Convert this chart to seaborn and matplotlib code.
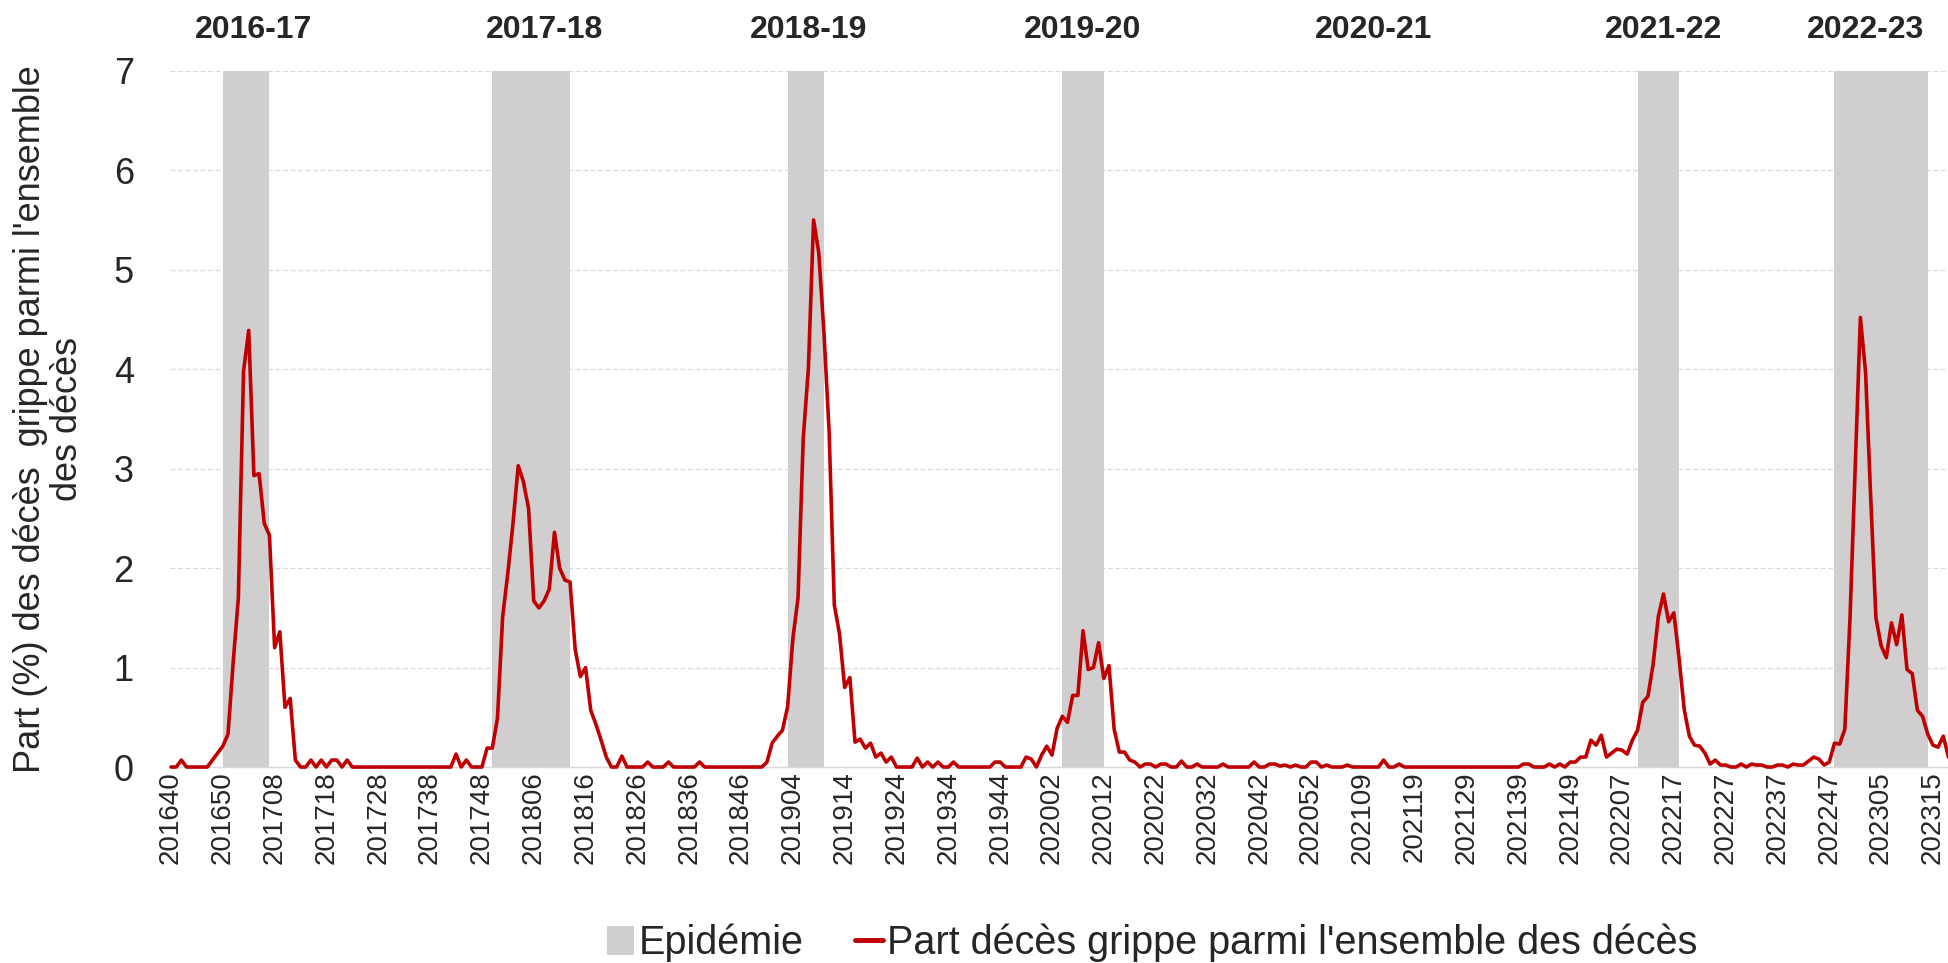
import pandas as pd
import matplotlib
matplotlib.use('Agg')
import matplotlib.pyplot as plt
import matplotlib.transforms as mtransforms
from matplotlib.patches import Patch
from matplotlib.lines import Line2D
import seaborn as sns

# part (%) des deces grippe parmi l'ensemble des deces, par saison (S40 -> S39)
s2016_17 = [0, 0, 0.07, 0, 0, 0, 0, 0, 0.07, 0.14,
            0.21, 0.33, 1.05, 1.7, 3.98, 4.39, 2.93, 2.95, 2.45, 2.33,
            1.2, 1.36, 0.6, 0.69, 0.07, 0, 0, 0.07, 0, 0.07,
            0, 0.07, 0.07, 0, 0.07, 0, 0, 0, 0, 0,
            0, 0, 0, 0, 0, 0, 0, 0, 0, 0,
            0, 0]
s2017_18 = [0, 0, 0, 0.13, 0, 0.07, 0, 0,
            0, 0.19, 0.19, 0.49, 1.51, 1.95, 2.45, 3.03, 2.87, 2.6,
            1.67, 1.6, 1.67, 1.79, 2.36, 2.0, 1.88, 1.86, 1.18, 0.91,
            1.0, 0.57, 0.43, 0.27, 0.1, 0, 0, 0.11, 0, 0,
            0, 0, 0.05, 0, 0, 0, 0.05, 0, 0, 0,
            0, 0, 0.05, 0]
s2018_19 = [0, 0, 0, 0, 0, 0,
            0, 0, 0, 0, 0, 0.05, 0.24, 0.31, 0.37, 0.61,
            1.29, 1.7, 3.3, 4.01, 5.5, 5.17, 4.37, 3.37, 1.63, 1.34,
            0.8, 0.9, 0.25, 0.28, 0.19, 0.24, 0.1, 0.14, 0.05, 0.1,
            0, 0, 0, 0, 0.09, 0, 0.05, 0, 0.05, 0,
            0, 0.05, 0, 0, 0, 0]
s2019_20 = [0, 0, 0, 0.05,
            0.05, 0, 0, 0, 0, 0.1, 0.08, 0, 0.12, 0.21,
            0.12, 0.39, 0.51, 0.45, 0.72, 0.72, 1.37, 0.98, 1.0, 1.25,
            0.89, 1.02, 0.38, 0.15, 0.15, 0.07, 0.05, 0, 0.03, 0.03,
            0, 0.03, 0.03, 0, 0, 0.06, 0, 0, 0.03, 0,
            0, 0, 0, 0.03, 0, 0, 0, 0]
s2020_21 = [0, 0.05,
            0, 0, 0.03, 0.03, 0.01, 0.02, 0, 0.02, 0, 0,
            0.05, 0.05, 0, 0.02, 0, 0, 0, 0.02, 0, 0,
            0, 0, 0, 0, 0.07, 0, 0, 0.03, 0, 0,
            0, 0, 0, 0, 0, 0, 0, 0, 0, 0,
            0, 0, 0, 0, 0, 0, 0, 0, 0, 0,
            0]
s2021_22 = [0.03, 0.03, 0, 0, 0, 0.03, 0, 0.03, 0,
            0.05, 0.05, 0.1, 0.1, 0.27, 0.22, 0.32, 0.1, 0.14, 0.18,
            0.17, 0.13, 0.27, 0.37, 0.65, 0.71, 1.03, 1.51, 1.74, 1.46,
            1.55, 1.1, 0.58, 0.31, 0.22, 0.21, 0.14, 0.03, 0.07, 0.02,
            0.02, 0, 0, 0.03, 0, 0.03, 0.02, 0.02, 0, 0,
            0.02, 0.02, 0]
s2022_23 = [0.03, 0.02, 0.02, 0.06, 0.1, 0.08, 0.02,
            0.05, 0.24, 0.23, 0.38, 1.5, 3.0, 4.52, 3.97, 2.7, 1.5,
            1.22, 1.1, 1.45, 1.23, 1.53, 0.98, 0.94, 0.57, 0.51, 0.33,
            0.22, 0.2, 0.31, 0.1]

part_deces = s2016_17 + s2017_18 + s2018_19 + s2019_20 + s2020_21 + s2021_22 + s2022_23

# periodes epidemiques (semaine de debut, semaine de fin)
epi_debut = ['201650', '201750', '201903', '202004', '202210', '202248']
epi_fin = ['201707', '201813', '201910', '202012', '202218', '202314']

saisons = ['2016-17', '2017-18', '2018-19', '2019-20', '2020-21', '2021-22', '2022-23']
saison_pos = ['201704', '201808', '201907', '202008', '202111', '202215', '202302']

# semaines ISO a partir de 2016-S40
semaines = pd.date_range('2016-10-03', periods=len(part_deces), freq='7D')
iso = semaines.isocalendar()
labels = [f'{a}{s:02d}' for a, s in zip(iso['year'], iso['week'])]
pos = {s: i for i, s in enumerate(labels)}

df = pd.DataFrame({'semaine': labels, 'part': part_deces})
df['idx'] = range(len(df))

sns.set_style('white')
plt.rcParams['font.family'] = ['Liberation Sans', 'DejaVu Sans']

fig = plt.figure(figsize=(19.49, 9.63), dpi=100)
ax = fig.add_axes([0.0872, 0.2035, 0.9128, 0.723])

for d, f in zip(epi_debut, epi_fin):
    ax.axvspan(pos[d], pos[f], color='#d0cece', lw=0, zorder=1)

sns.lineplot(data=df, x='idx', y='part', color='#c00000', linewidth=2.6,
             ax=ax, zorder=3, clip_on=False, legend=False)

ax.set_xlim(-0.2, 343.1)
ax.set_ylim(0, 7)
ax.set_yticks(range(0, 8))
ax.tick_params(axis='y', labelsize=26, length=0, pad=26)

ticks = list(range(0, len(labels), 10))
ax.set_xticks(ticks)
ax.set_xticklabels([labels[i] for i in ticks], rotation=90)
ax.tick_params(axis='x', labelsize=20, length=0, pad=3)

ax.yaxis.grid(True, color='#d9d9d9', linestyle=(0, (4, 2)), linewidth=0.9)
ax.xaxis.grid(False)
ax.set_axisbelow(True)
for s in ['top', 'right', 'left']:
    ax.spines[s].set_visible(False)
ax.spines['bottom'].set_color('#d9d9d9')
ax.spines['bottom'].set_linewidth(1)

ax.set_xlabel('')
ax.set_ylabel("Part (%) des décès  grippe parmi l'ensemble\ndes décès",
              fontsize=26, linespacing=1.05)
ax.yaxis.set_label_coords(-0.048, 0.5)

trans = mtransforms.blended_transform_factory(ax.transData, ax.transAxes)
for nom, w in zip(saisons, saison_pos):
    ax.text(pos[w], 1.059, nom, transform=trans, ha='center', va='center',
            fontsize=23, fontweight='bold')

handles = [Patch(facecolor='#d0cece', edgecolor='none', label='Epidémie'),
           Line2D([0], [0], color='#c00000', lw=3.5,
                  label="Part décès grippe parmi l'ensemble des décès")]
fig.legend(handles=handles, loc='center', bbox_to_anchor=(0.591, 0.021), ncol=2,
           frameon=False, fontsize=28.5, handlelength=0.7, handleheight=0.75,
           handletextpad=0.1, columnspacing=1.3)

fig.savefig('out.png', dpi=100)
